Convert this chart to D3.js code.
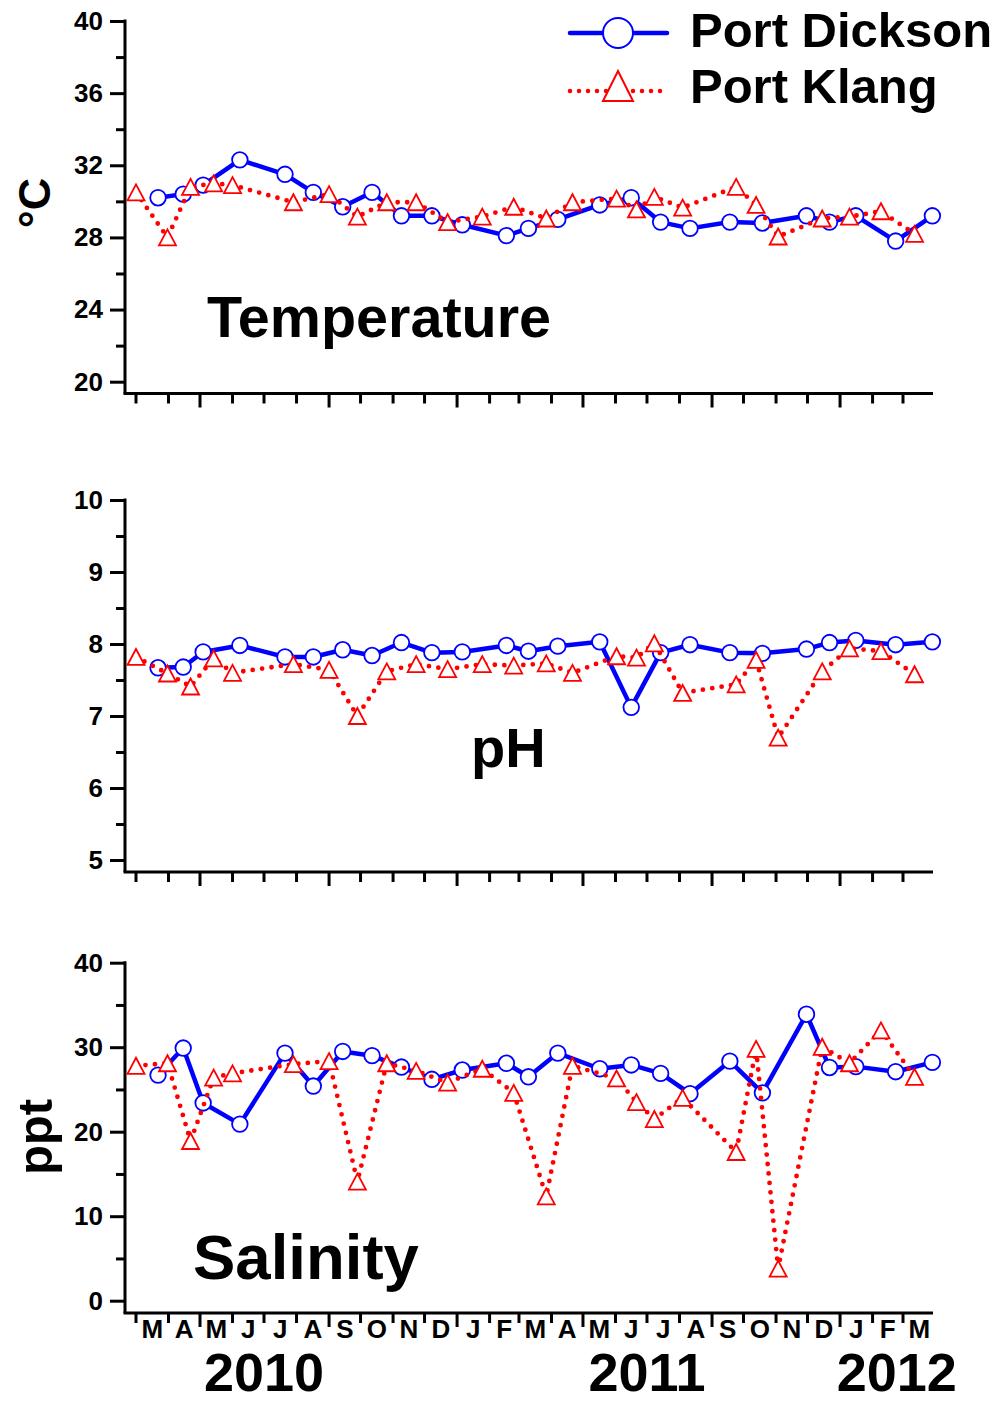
<!DOCTYPE html>
<html><head><meta charset="utf-8">
<script src="https://cdn.jsdelivr.net/npm/d3@7"></script>
<style>
body{margin:0;background:#fff}
svg{display:block}
text{font-family:"Liberation Sans",Arial,Helvetica,sans-serif;font-weight:bold;fill:#000}
</style>
</head><body>
<svg id="chart" width="1005" height="1403"></svg>
<script>
// ---------------- data ----------------
const seriesNames = ["Port Dickson", "Port Klang"];
const pdDates = ["2010-03-22","2010-04-15","2010-05-04","2010-06-08","2010-07-21","2010-08-17","2010-09-14","2010-10-12","2010-11-09","2010-12-08","2011-01-06","2011-02-17","2011-03-10","2011-04-07","2011-05-17","2011-06-16","2011-07-14","2011-08-11","2011-09-18","2011-10-19","2011-11-30","2011-12-22","2012-01-16","2012-02-23","2012-03-29"];
const pkDates = ["2010-03-01","2010-03-31","2010-04-22","2010-05-14","2010-06-01","2010-07-29","2010-09-01","2010-09-28","2010-10-26","2010-11-23","2010-12-23","2011-01-25","2011-02-24","2011-03-27","2011-04-21","2011-06-02","2011-06-21","2011-07-08","2011-08-04","2011-09-24","2011-10-13","2011-11-03","2011-12-15","2012-01-10","2012-02-09","2012-03-12"];

const pdTemp = [30.2,30.4,30.9,32.3,31.5,30.5,29.7,30.5,29.2,29.2,28.7,28.1,28.5,29.0,29.8,30.2,28.85,28.5,28.85,28.8,29.2,28.85,29.2,27.8,29.2];
const pkTemp = [30.5,28.0,30.8,31.0,30.9,29.95,30.4,29.15,29.95,29.95,28.85,29.15,29.7,29.05,29.95,30.15,29.55,30.25,29.65,30.8,29.8,28.05,29.05,29.15,29.45,28.2];

const pdPH = [7.67,7.68,7.89,7.98,7.82,7.82,7.92,7.84,8.02,7.88,7.89,7.98,7.9,7.97,8.03,7.12,7.88,7.99,7.88,7.87,7.93,8.02,8.05,7.99,8.03];
const pkPH = [7.82,7.59,7.41,7.8,7.6,7.72,7.64,7.0,7.62,7.72,7.65,7.72,7.7,7.73,7.6,7.83,7.81,8.01,7.32,7.44,7.78,6.7,7.62,7.94,7.9,7.58];

const pdSal = [26.7,29.9,23.4,20.9,29.3,25.4,29.5,29.0,27.65,26.2,27.3,28.1,26.5,29.3,27.45,27.9,26.9,24.5,28.35,24.6,33.9,27.6,27.7,27.1,28.2];
const pkSal = [27.8,28.1,18.9,26.4,26.9,28.0,28.35,14.1,28.1,27.2,25.8,27.45,24.6,12.35,27.8,26.3,23.5,21.5,24.0,17.6,29.8,3.8,30.05,28.1,32.0,26.5];

const tempTicks = [20,24,28,32,36,40];
const phTicks = [5,6,7,8,9,10];
const salTicks = [0,10,20,30,40];

const monthLabels = ["M","A","M","J","J","A","S","O","N","D","J","F","M","A","M","J","J","A","S","O","N","D","J","F","M"];
const yearLabels = ["2010","2011","2012"];
const yearLabelDates = ["2010-07-01","2011-07-01","2012-02-24"];
const panelTitles = ["Temperature","pH","Salinity"];
const yTitles = ["°C","","ppt"];

// ---------------- setup ----------------
const parse = d3.timeParse("%Y-%m-%d");
const svg = d3.select("#chart");
const BLUE = "#0000ff", RED = "#ff0000";

const x = d3.scaleTime()
  .domain([parse("2010-03-01"), parse("2012-03-01")])
  .range([136, 903]);
const axisLeftX = 125, axisRightX = 933;

const monthStarts = d3.timeMonth.range(parse("2010-03-01"), parse("2012-04-01"));

const panels = [
  {pd: pdTemp, pk: pkTemp, ticks: tempTicks, range: [381.7, 21], axisY: 393.5,
   title: panelTitles[0], tx: 207, ty: 337, tsize: 57.5, ylab: yTitles[0], lx: 50, ly: 203, lsize: 45},
  {pd: pdPH, pk: pkPH, ticks: phTicks, range: [860, 500], axisY: 872,
   title: panelTitles[1], tx: 471, ty: 767, tsize: 56, ylab: yTitles[1]},
  {pd: pdSal, pk: pkSal, ticks: salTicks, range: [1300.7, 962.7], axisY: 1313,
   title: panelTitles[2], tx: 193, ty: 1279, tsize: 63.5, ylab: yTitles[2], lx: 52, ly: 1137, lsize: 49}
];

function triPath(w, h) {
  return `M0,${-h/2}L${w/2},${h/2}L${-w/2},${h/2}Z`;
}

panels.forEach((p, i) => {
  const g = svg.append("g");
  const y = d3.scaleLinear().domain(d3.extent(p.ticks)).range(p.range);
  const majors = p.ticks;
  const minors = d3.pairs(majors).map(([a, b]) => (a + b) / 2);

  // y axis major ticks with labels
  const ya = g.append("g").attr("transform", `translate(${axisLeftX},0)`)
    .call(d3.axisLeft(y).tickValues(majors).tickSize(15).tickPadding(7).tickFormat(d3.format("d")));
  ya.select(".domain").remove();
  ya.selectAll("line").attr("stroke", "#000").attr("stroke-width", 3);
  ya.selectAll("text").attr("font-size", 26).attr("font-weight", "bold")
    .attr("font-family", "'Liberation Sans', Arial, sans-serif").attr("fill", "#000");
  const ym = g.append("g").attr("transform", `translate(${axisLeftX},0)`)
    .call(d3.axisLeft(y).tickValues(minors).tickSize(9).tickFormat(""));
  ym.select(".domain").remove();
  ym.selectAll("line").attr("stroke", "#000").attr("stroke-width", 3);

  // axis lines
  g.append("line").attr("x1", axisLeftX).attr("x2", axisLeftX)
    .attr("y1", y(d3.max(majors)) - 1.5).attr("y2", p.axisY)
    .attr("stroke", "#000").attr("stroke-width", 3);
  g.append("line").attr("x1", axisLeftX - 1.5).attr("x2", axisRightX)
    .attr("y1", p.axisY).attr("y2", p.axisY)
    .attr("stroke", "#000").attr("stroke-width", 3);

  // x ticks
  g.selectAll(".xt").data(monthStarts).join("line")
    .attr("x1", d => x(d)).attr("x2", d => x(d))
    .attr("y1", p.axisY).attr("y2", d => p.axisY + ([0, 4, 8].includes(d.getMonth()) ? 14 : 10))
    .attr("stroke", "#000").attr("stroke-width", 3);

  // y axis title
  if (p.ylab) {
    g.append("text").attr("transform", `translate(${p.lx},${p.ly}) rotate(-90)`)
      .attr("text-anchor", "middle").attr("font-size", p.lsize).text(p.ylab);
  }
  // panel title
  g.append("text").attr("x", p.tx).attr("y", p.ty).attr("font-size", p.tsize).text(p.title);

  // series
  const pdData = pdDates.map((d, k) => ({date: parse(d), v: p.pd[k]}));
  const pkData = pkDates.map((d, k) => ({date: parse(d), v: p.pk[k]}));
  const line = d3.line().x(d => x(d.date)).y(d => y(d.v));

  g.append("path").datum(pdData).attr("d", line)
    .attr("fill", "none").attr("stroke", BLUE).attr("stroke-width", 4.5).attr("stroke-linejoin", "round");
  g.selectAll(".pdm").data(pdData).join("circle")
    .attr("cx", d => x(d.date)).attr("cy", d => y(d.v)).attr("r", 7.8)
    .attr("fill", "#fff").attr("stroke", BLUE).attr("stroke-width", 1.8);

  g.append("path").datum(pkData).attr("d", line)
    .attr("fill", "none").attr("stroke", RED).attr("stroke-width", 4.8)
    .attr("stroke-dasharray", "0 9.5").attr("stroke-linecap", "round");
  g.selectAll(".pkm").data(pkData).join("path")
    .attr("transform", d => `translate(${x(d.date)},${y(d.v)})`)
    .attr("d", triPath(17, 16))
    .attr("fill", "#fff").attr("stroke", RED).attr("stroke-width", 1.8);
});

// month labels (bottom panel)
const bottomAxisY = panels[2].axisY;
svg.append("g").selectAll("text").data(monthStarts).join("text")
  .attr("x", d => (x(d) + x(d3.timeMonth.offset(d, 1))) / 2)
  .attr("y", bottomAxisY + 25)
  .attr("text-anchor", "middle").attr("font-size", 26)
  .text((d, k) => monthLabels[k]);

// year labels
svg.append("g").selectAll("text").data(yearLabels).join("text")
  .attr("x", (d, k) => x(parse(yearLabelDates[k])))
  .attr("y", 1391)
  .attr("text-anchor", "middle").attr("font-size", 54)
  .text(d => d);

// legend
const lg = svg.append("g");
lg.append("line").attr("x1", 570).attr("x2", 667).attr("y1", 33).attr("y2", 33)
  .attr("stroke", BLUE).attr("stroke-width", 4.5).attr("stroke-linecap", "round");
lg.append("circle").attr("cx", 618).attr("cy", 33).attr("r", 15)
  .attr("fill", "#fff").attr("stroke", BLUE).attr("stroke-width", 2);
lg.append("text").attr("x", 690).attr("y", 47).attr("font-size", 49).text(seriesNames[0]);

lg.append("line").attr("x1", 570).attr("x2", 667).attr("y1", 91).attr("y2", 91)
  .attr("stroke", RED).attr("stroke-width", 4.5).attr("stroke-dasharray", "0 9").attr("stroke-linecap", "round");
lg.append("path").attr("transform", "translate(618,86)").attr("d", triPath(30, 30))
  .attr("fill", "#fff").attr("stroke", RED).attr("stroke-width", 2);
lg.append("text").attr("x", 690).attr("y", 103).attr("font-size", 49).text(seriesNames[1]);
</script>
</body></html>
